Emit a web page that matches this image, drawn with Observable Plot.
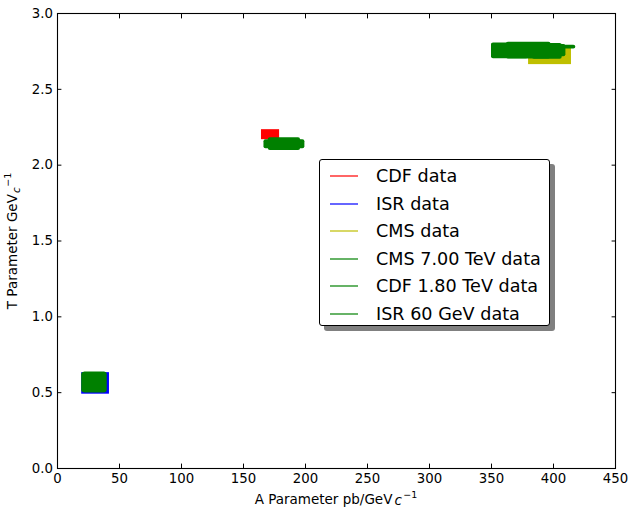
<!DOCTYPE html>
<html><head><meta charset="utf-8">
<script src="https://cdn.jsdelivr.net/npm/d3@7"></script>
<script src="https://cdn.jsdelivr.net/npm/@observablehq/plot@0.6"></script>
<style>
body{margin:0;background:#fff;font-family:"DejaVu Sans",sans-serif;}
#wrap{position:relative;width:632px;height:511px;}
#legend{position:absolute;left:319px;top:159px;width:229px;height:165px;border:1.2px solid #000;border-radius:3px;background:#fff;box-shadow:5px 5px 0 #808080;font-size:17.6px;color:#000;}
.row{position:absolute;left:0;width:229px;height:22px;}
.row svg{position:absolute;left:10px;top:0;}
.row .tx{position:absolute;left:56px;top:0;line-height:22px;white-space:nowrap;}
</style>
</head><body>
<div id="wrap"><div id="legend"></div></div>
<script>
// Each entry: [A centre, T centre, A half-width, T half-width]
const cdfData = [[171.8, 2.201, 7.3, 0.033]];
const isrData = [[30.7, 0.561, 11.2, 0.071]];
const cmsData = [[397.2, 2.72, 17.3, 0.057]];
const cms7Data = [[380, 2.755, 30, 0.04], [386, 2.778, 32, 0.012], [380, 2.755, 18, 0.055], [365, 2.752, 15, 0.05], [395, 2.75, 12, 0.052], [358, 2.76, 8, 0.045]];
const cdf18Data = [[183, 2.138, 16.5, 0.03], [183, 2.138, 13, 0.042]];
const isr60Data = [[29.8, 0.567, 10.3, 0.066], [30, 0.567, 9.5, 0.07]];

const seriesNames = ["CDF data", "ISR data", "CMS data", "CMS 7.00 TeV data", "CDF 1.80 TeV data", "ISR 60 GeV data"];
const seriesColors = ["#ff0000", "#0000ff", "#bfbf00", "#008000", "#008000", "#008000"];
const seriesData = [cdfData, isrData, cmsData, cms7Data, cdf18Data, isr60Data];

const xTicks = [0, 50, 100, 150, 200, 250, 300, 350, 400, 450];
const yTicks = [0.0, 0.5, 1.0, 1.5, 2.0, 2.5, 3.0];

const rectMarks = seriesData.map((data, i) => Plot.rect(data, {
  x1: d => d[0] - d[2], x2: d => d[0] + d[2],
  y1: d => d[1] - d[3], y2: d => d[1] + d[3],
  fill: seriesColors[i], rx: i >= 3 ? 2 : 0
}));

const chart = Plot.plot({
  width: 632, height: 511,
  marginLeft: 57, marginRight: 17, marginTop: 13, marginBottom: 43,
  style: {fontFamily: "DejaVu Sans", fontSize: "13.3px", color: "#000", background: "#fff"},
  x: {domain: [0, 450]},
  y: {domain: [0, 3]},
  marks: [
    ...rectMarks,
    Plot.axisX(xTicks, {anchor: "bottom", tickSize: -4.4, tickPadding: 9, label: null, tickFormat: d3.format("d"), strokeWidth: 1}),
    Plot.axisX(xTicks, {anchor: "top", tickSize: -4.4, label: null, tickFormat: () => "", strokeWidth: 1}),
    Plot.axisY(yTicks, {anchor: "left", tickSize: -4.4, tickPadding: 9, label: null, tickFormat: d3.format(".1f"), strokeWidth: 1}),
    Plot.axisY(yTicks, {anchor: "right", tickSize: -4.4, label: null, tickFormat: () => "", strokeWidth: 1}),
    Plot.frame({stroke: "#000", strokeWidth: 1.1})
  ]
});
document.getElementById("wrap").prepend(chart);

const svg = d3.select(chart);
const xl = svg.append("text").attr("x", 336).attr("y", 504).attr("text-anchor", "middle")
  .attr("font-size", "13.5px").attr("fill", "#000");
xl.append("tspan").text("A Parameter pb/GeV");
xl.append("tspan").attr("font-style", "italic").attr("dx", 2).attr("dy", 1).text("c");
xl.append("tspan").attr("font-size", "9.5px").attr("dx", 1.5).attr("dy", -7).text("\u22121");

const yl = svg.append("text").attr("transform", "translate(17,241) rotate(-90)").attr("text-anchor", "middle")
  .attr("font-size", "13.5px").attr("fill", "#000");
yl.append("tspan").text("T Parameter GeV");
yl.append("tspan").attr("font-style", "italic").attr("font-size", "10.5px").attr("dx", 1).attr("dy", 3).text("c");
yl.append("tspan").attr("font-size", "9.5px").attr("dy", -9).attr("dx", 0.5).text("\u22121");

const legend = d3.select("#legend");
seriesNames.forEach((name, i) => {
  const row = legend.append("div").attr("class", "row").style("top", Math.round(5 + i * 27.6) + "px");
  const s = row.append("svg").attr("width", 30).attr("height", 22);
  s.append("line").attr("x1", 0).attr("x2", 28).attr("y1", 11).attr("y2", 11)
    .attr("stroke", seriesColors[i]).attr("stroke-width", 1.2);
  row.append("div").attr("class", "tx").text(name);
});
</script>
</body></html>
